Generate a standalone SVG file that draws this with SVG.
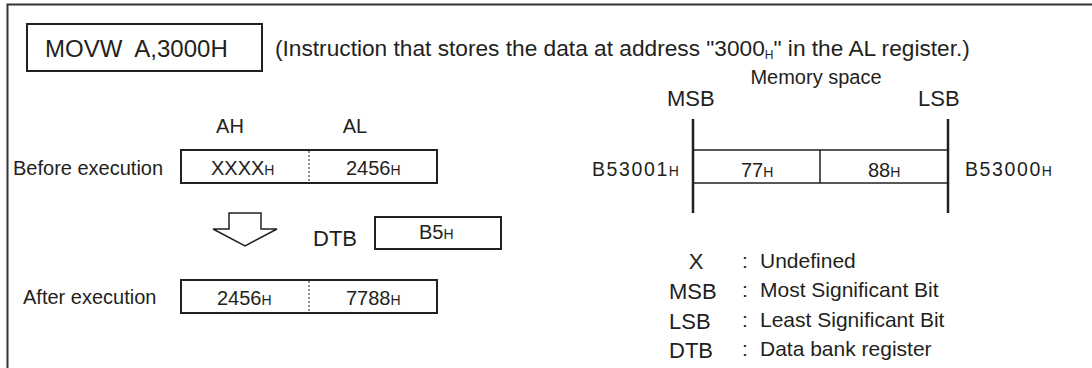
<svg xmlns="http://www.w3.org/2000/svg" width="1092" height="368" viewBox="0 0 1092 368">
<style>
text{font-family:"Liberation Sans",Arial,Helvetica,sans-serif;fill:#231f20}
.t20{font-size:20px}
.t21{font-size:21px}
.t22{font-size:22px}
.sub{font-size:14px}
.box{fill:none;stroke:#231f20;stroke-width:2}
.dash{stroke:#231f20;stroke-width:1;stroke-dasharray:2 2}
.mline{stroke:#231f20;stroke-width:1.5;fill:none}
.vline{stroke:#231f20;stroke-width:2.5;fill:none}
.mid{text-anchor:middle}
</style>
<path d="M7.5,368 V4.5 H1092" fill="none" stroke="#333" stroke-width="2"/>

<g id="instr">
<rect class="box" x="27" y="24" width="235" height="47"/>
<text x="45" y="57" font-size="24" xml:space="preserve">MOVW  A,3000H</text>
</g>
<g id="instr-note">
<text x="275" y="56" font-size="22.7">(Instruction that stores the data at address "3000<tspan font-size="12" dy="3">H</tspan><tspan dy="-3">" in the AL register.)</tspan></text>
</g>

<g id="reg-labels">
<text class="t20 mid" x="230" y="133">AH</text>
<text class="t20 mid" x="355" y="133">AL</text>
</g>

<g id="before">
<text class="t20" x="13" y="175">Before execution</text>
<rect class="box" x="181" y="150" width="256" height="33"/>
<line class="dash" x1="309" y1="151" x2="309" y2="182"/>
<text class="t20" x="211" y="175">XXXX<tspan class="sub">H</tspan></text>
<text class="t20" x="346" y="175">2456<tspan class="sub">H</tspan></text>
</g>

<g id="arrow">
<polygon points="229,213 261,213 261,229 277,229 245,246 213,229 229,229" fill="#fff" stroke="#231f20" stroke-width="1.5" stroke-linejoin="miter"/>
</g>

<g id="dtb">
<text class="t22" x="313" y="246">DTB</text>
<rect class="box" x="375" y="217" width="126" height="32"/>
<text class="t20" x="419" y="239">B5<tspan class="sub">H</tspan></text>
</g>

<g id="after">
<text class="t20" x="23" y="304">After execution</text>
<rect class="box" x="181" y="280" width="256" height="33"/>
<line class="dash" x1="309" y1="281" x2="309" y2="312"/>
<text class="t20" x="217" y="305">2456<tspan class="sub">H</tspan></text>
<text class="t20" x="346" y="305">7788<tspan class="sub">H</tspan></text>
</g>

<g id="memory">
<text class="mid" x="816" y="84" font-size="20">Memory space</text>
<text class="t22" x="667" y="106">MSB</text>
<text class="t22" x="918" y="106">LSB</text>
<line class="vline" x1="693" y1="119" x2="693" y2="213"/>
<line class="vline" x1="948" y1="119" x2="948" y2="213"/>
<line class="mline" x1="693" y1="150" x2="948" y2="150"/>
<line class="mline" x1="693" y1="183" x2="948" y2="183"/>
<line class="mline" x1="820" y1="150" x2="820" y2="183"/>
<text x="592" y="176" font-size="19.5" letter-spacing="1.6">B53001<tspan class="sub" letter-spacing="0">H</tspan></text>
<text x="965" y="176" font-size="19.5" letter-spacing="1.6">B53000<tspan class="sub" letter-spacing="0">H</tspan></text>
<text class="t20" x="741" y="177">77<tspan class="sub">H</tspan></text>
<text class="t20" x="868" y="177">88<tspan class="sub">H</tspan></text>
</g>

<g id="legend">
<text class="t22 mid" x="696" y="269">X</text>
<text class="t21" x="742" y="268">:</text>
<text class="t21" x="760" y="268">Undefined</text>
<text class="t22" x="669" y="299">MSB</text>
<text class="t21" x="742" y="297">:</text>
<text class="t21" x="760" y="297">Most Significant Bit</text>
<text class="t22" x="669" y="329">LSB</text>
<text class="t21" x="742" y="327">:</text>
<text class="t21" x="760" y="327">Least Significant Bit</text>
<text class="t22" x="669" y="358">DTB</text>
<text class="t21" x="742" y="356">:</text>
<text class="t21" x="760" y="356">Data bank register</text>
</g>
</svg>
